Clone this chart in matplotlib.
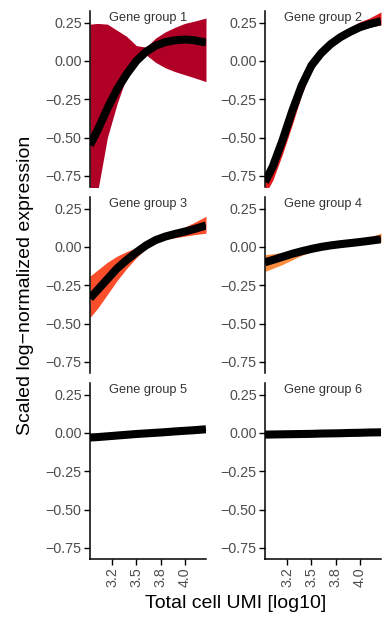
import matplotlib
matplotlib.use("Agg")
import matplotlib.pyplot as plt
import numpy as np

plt.rcParams['font.family'] = ['Liberation Sans', 'DejaVu Sans']

x = [3.02, 3.1, 3.2, 3.3, 3.4, 3.5, 3.6, 3.7, 3.8, 3.9, 4.0, 4.1, 4.22]

groups = ["Gene group 1", "Gene group 2", "Gene group 3",
          "Gene group 4", "Gene group 5", "Gene group 6"]
colors = ["#B10026", "#E31A1C", "#FC4E2A", "#FD8D3C", "#FEB24C", "#FED976"]

mean1 = [-0.55, -0.45, -0.31, -0.185, -0.085, 0.0, 0.06, 0.10, 0.123, 0.135, 0.14, 0.135, 0.12]
upper1 = [0.24, 0.245, 0.24, 0.20, 0.16, 0.10, 0.09, 0.15, 0.19, 0.22, 0.245, 0.26, 0.28]
lower1 = [-1.0, -0.85, -0.50, -0.28, -0.10, 0.0, 0.04, -0.01, -0.045, -0.07, -0.09, -0.11, -0.135]

mean2 = [-0.79, -0.69, -0.52, -0.33, -0.16, -0.03, 0.05, 0.11, 0.155, 0.19, 0.22, 0.24, 0.26]
upper2 = [-0.74, -0.65, -0.49, -0.31, -0.145, -0.02, 0.065, 0.13, 0.18, 0.22, 0.255, 0.28, 0.32]
lower2 = [-0.87, -0.78, -0.61, -0.42, -0.22, -0.065, 0.025, 0.095, 0.135, 0.17, 0.20, 0.22, 0.235]

mean3 = [-0.335, -0.28, -0.21, -0.14, -0.085, -0.035, 0.01, 0.045, 0.068, 0.085, 0.10, 0.117, 0.14]
upper3 = [-0.19, -0.15, -0.10, -0.06, -0.03, -0.005, 0.02, 0.05, 0.075, 0.10, 0.13, 0.16, 0.20]
lower3 = [-0.46, -0.40, -0.31, -0.22, -0.14, -0.07, -0.01, 0.035, 0.05, 0.06, 0.07, 0.08, 0.09]

mean4 = [-0.10, -0.085, -0.065, -0.045, -0.028, -0.013, 0.0, 0.01, 0.018, 0.025, 0.032, 0.04, 0.05]
upper4 = [-0.05, -0.045, -0.035, -0.025, -0.015, -0.005, 0.005, 0.015, 0.025, 0.035, 0.05, 0.065, 0.09]
lower4 = [-0.16, -0.14, -0.115, -0.085, -0.055, -0.03, -0.008, 0.005, 0.012, 0.018, 0.022, 0.028, 0.035]

mean5 = [-0.03, -0.027, -0.022, -0.017, -0.012, -0.007, -0.003, 0.001, 0.005, 0.01, 0.014, 0.018, 0.024]
upper5 = [-0.018, -0.018, -0.015, -0.012, -0.008, -0.004, -0.001, 0.003, 0.007, 0.012, 0.016, 0.021, 0.028]
lower5 = [-0.045, -0.038, -0.03, -0.023, -0.016, -0.01, -0.005, -0.001, 0.003, 0.008, 0.012, 0.015, 0.02]

mean6 = [-0.011, -0.010, -0.009, -0.008, -0.007, -0.006, -0.004, -0.003, -0.002, 0.0, 0.001, 0.003, 0.004]
upper6 = [-0.008, -0.008, -0.007, -0.006, -0.005, -0.004, -0.003, -0.002, -0.001, 0.001, 0.002, 0.004, 0.006]
lower6 = [-0.014, -0.012, -0.011, -0.010, -0.009, -0.007, -0.005, -0.004, -0.003, -0.001, 0.0, 0.002, 0.002]

means = [mean1, mean2, mean3, mean4, mean5, mean6]
uppers = [upper1, upper2, upper3, upper4, upper5, upper6]
lowers = [lower1, lower2, lower3, lower4, lower5, lower6]

xticks = [3.25, 3.5, 3.75, 4.0]
xticklabels = ["3.2", "3.5", "3.8", "4.0"]
yticks = [0.25, 0.0, -0.25, -0.5, -0.75]
yticklabels = ["0.25", "0.00", "\u22120.25", "\u22120.50", "\u22120.75"]

W, H = 385, 618
fig = plt.figure(figsize=(W / 100, H / 100), dpi=100)

col_left = [90, 265]
pw = 116
row_top = [11, 197, 383]
ph = 176

for i in range(6):
    r, c = divmod(i, 2)
    l = col_left[c]
    t = row_top[r]
    ax = fig.add_axes([l / W, 1 - (t + ph) / H, pw / W, ph / H])
    ax.fill_between(x, lowers[i], uppers[i], color=colors[i], linewidth=0)
    ax.plot(x, means[i], color="black", lw=5.8, solid_capstyle="butt",
            solid_joinstyle="round")
    ax.set_xlim(3.02, 4.22)
    ax.set_ylim(-0.823, 0.326)
    for s in ["top", "right"]:
        ax.spines[s].set_visible(False)
    ax.spines["left"].set_linewidth(1.1)
    ax.spines["bottom"].set_linewidth(1.1)
    ax.set_yticks(yticks)
    ax.set_yticklabels(yticklabels)
    ax.tick_params(axis="y", length=4, width=1.0, colors="black", labelcolor="#4D4D4D",
                   labelsize=10.3, pad=2)
    if r == 2:
        ax.set_xticks(xticks)
        ax.set_xticklabels(xticklabels, rotation=90)
        ax.tick_params(axis="x", length=4, width=1.0, colors="black", labelcolor="#4D4D4D",
                       labelsize=10.3, pad=2)
    else:
        ax.spines["bottom"].set_visible(False)
        ax.set_xticks([])
    ax.text(0.5, 0.997, groups[i], transform=ax.transAxes, ha="center", va="top",
            fontsize=9.2, color="#333333")

fig.text(235.5 / W, 1 - 603 / H, "Total cell UMI [log10]", ha="center", va="center",
         fontsize=14)
fig.text(26 / W, 1 - 285 / H, "Scaled log\u2212normalized expression", ha="center",
         va="center", rotation=90, fontsize=14)

fig.savefig("out.png", dpi=100)
